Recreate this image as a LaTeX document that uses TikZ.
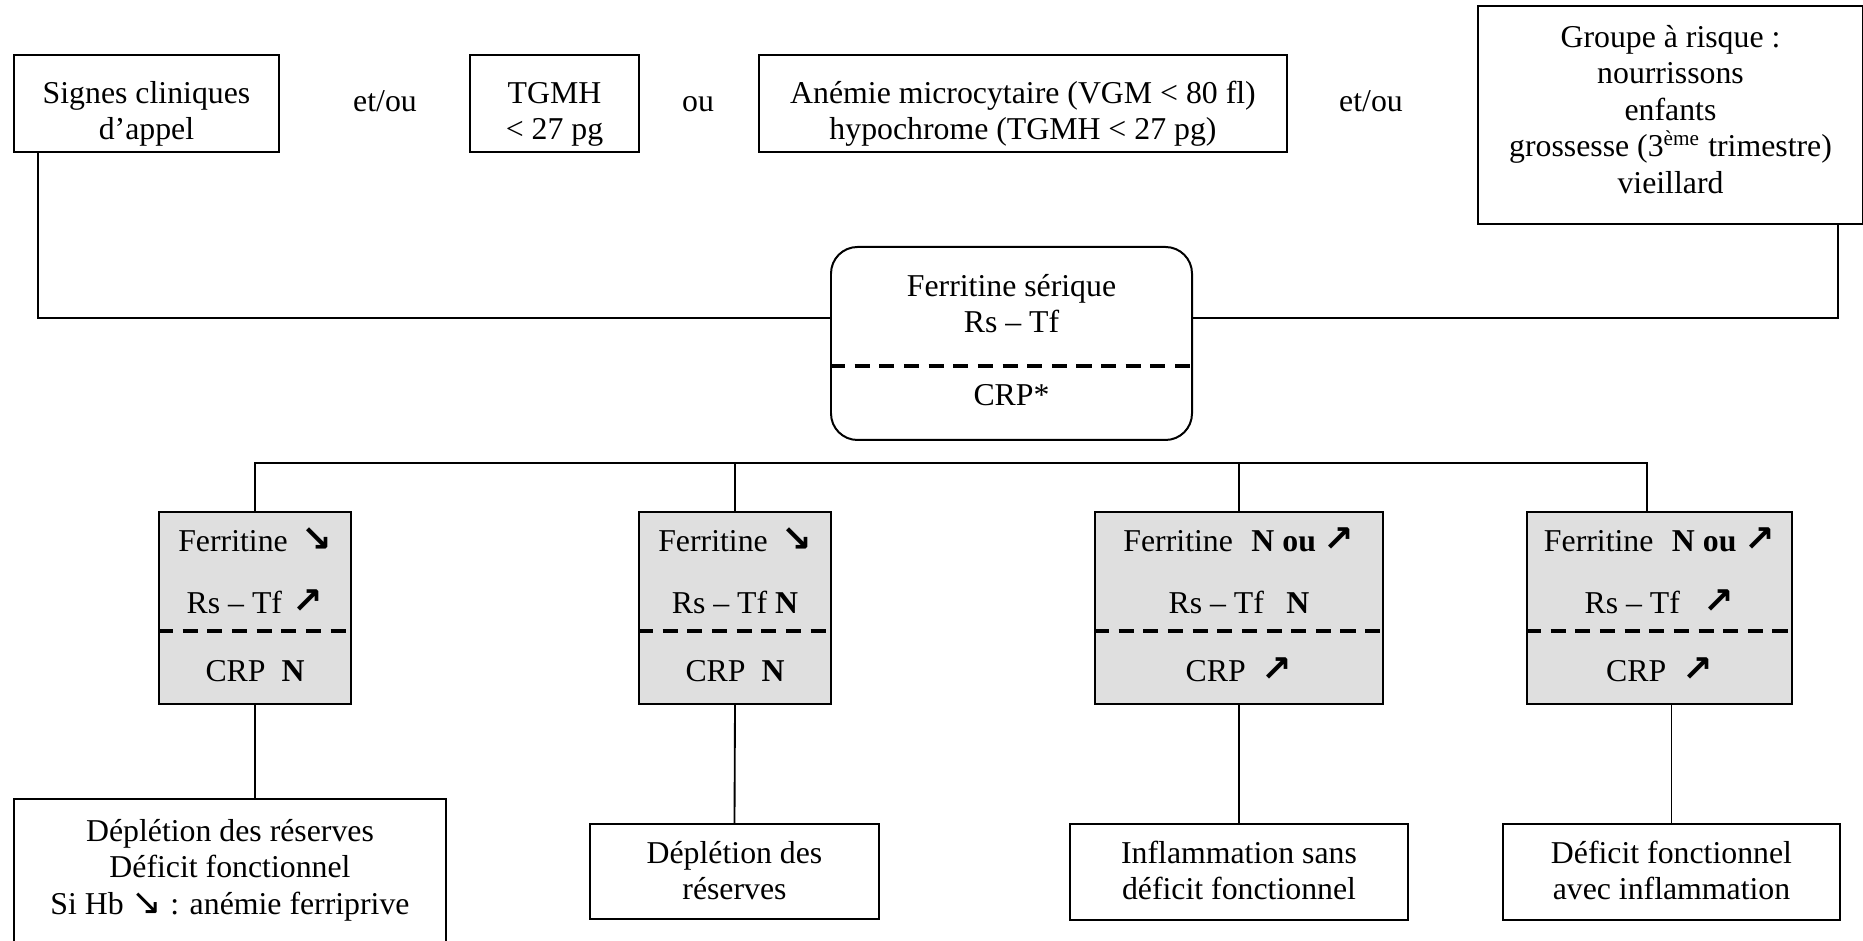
\documentclass[tikz,border=0pt]{standalone}
\usepackage{fontspec}
\setmainfont{Liberation Serif}
\newfontfamily\arrowfont{DejaVu Sans}[Scale=1.15]
% trend arrows
\newcommand\arrup{{\arrowfont\bfseries ↗}}
\newcommand\arrdn{{\arrowfont\bfseries ↘}}
\newcommand\arrdnthin{{\arrowfont ↘}}
% drawing unit and box contents: width, height, top gap, lines
\newdimen\pxu \pxu=0.3774pt
\newcommand\boxtext[4]{\parbox[t][#2\pxu][t]{#1\pxu}{\centering\vspace*{#3\pxu}\strut #4\par}}
\begin{document}
\begin{tikzpicture}[x=0.3774pt, y=-0.3774pt,
  every node/.style={font=\fontsize{12}{13.8}\selectfont, inner sep=0pt},
  frame/.style={draw, line width=0.75pt, fill=white, anchor=north west},
  testbox/.style={frame, fill=gray!25},
  roundbox/.style={frame, rounded corners=10pt},
  link/.style={line width=0.7pt},
  sepline/.style={line width=1.5pt, dash pattern=on 5.7pt off 3.6pt},
  word/.style={anchor=base}
]
\useasboundingbox (0,0) rectangle (1863,941);
\clip (0,0) rectangle (1863,941);

% helper coordinates for the connector routes
\coordinate (aX) at (38,0);
\coordinate (dX) at (1838,0);
\coordinate (joinY) at (0,318);
\coordinate (bus) at (0,463);
\coordinate (g4X) at (1647,0);
\coordinate (sepF) at (0,366);
\coordinate (sepG) at (0,631);

% entry criteria
\node[frame] (A) at (13,54)
  {\boxtext{265}{97}{22.5}{Signes cliniques\\d’appel}};
\node[frame] (B) at (469,54)
  {\boxtext{169}{97}{22.5}{TGMH\\< 27 pg}};
\node[frame] (C) at (758,54)
  {\boxtext{528}{97}{22.5}{Anémie microcytaire (VGM < 80 fl)\\hypochrome (TGMH < 27 pg)}};
\node[frame] (D) at (1477,5)
  {\boxtext{385}{218}{15.5}{Groupe à risque :\\nourrissons\\enfants\\grossesse (3\textsuperscript{ème} trimestre)\\vieillard}};

\node[word] (w1) at (385,112) {et/ou};
\node[word] (w2) at (698,112) {ou};
\node[word] (w3) at (1371,112) {et/ou};

% first-line assay
\node[roundbox] (F) at (830,246)
  {\boxtext{361}{193}{23.5}{Ferritine sérique\\Rs – Tf\\[13.8pt]CRP*}};
\draw[sepline] (F.west |- sepF) -- (F.east |- sepF);

\draw[link] (A.south -| aX) |- (F.west |- joinY);
\draw[link] (D.south -| dX) |- (F.east |- joinY);

% result profiles
\node[testbox] (G1) at (158,511)
  {\boxtext{192}{192}{13.5}{Ferritine\hspace{5pt}\arrdn\\[9.6pt]Rs – Tf\hspace{4pt}\arrup\\[11.9pt]CRP\hspace{6pt}\textbf{N}}};
\node[testbox] (G2) at (638,511)
  {\boxtext{192}{192}{13.5}{Ferritine\hspace{5pt}\arrdn\\[9.6pt]Rs – Tf \textbf{N}\\[11.9pt]CRP\hspace{6pt}\textbf{N}}};
\node[testbox] (G3) at (1094,511)
  {\boxtext{288}{192}{13.5}{Ferritine\hspace{7pt}\textbf{N ou} \arrup\\[9.6pt]Rs – Tf\hspace{8.5pt}\textbf{N}\\[11.9pt]CRP\hspace{6pt}\arrup}};
\node[testbox] (G4) at (1526,511)
  {\boxtext{265}{192}{13.5}{Ferritine\hspace{7pt}\textbf{N ou} \arrup\\[9.6pt]Rs – Tf\hspace{9pt}\arrup\\[11.9pt]CRP\hspace{6pt}\arrup}};

\foreach \g in {G1,G2,G3,G4}
  \draw[sepline] (\g.west |- sepG) -- (\g.east |- sepG);

\draw[link] (G1.north) -- (G1.north |- bus) -- (g4X |- bus) -- (G4.north -| g4X);
\draw[link] (G2.north) -- (G2.north |- bus);
\draw[link] (G3.north) -- (G3.north |- bus);

% interpretations
\node[frame] (E1) at (13,798)
  {\boxtext{432}{146}{16.5}{Déplétion des réserves\\Déficit fonctionnel\\Si Hb \arrdnthin{} : anémie ferriprive}};
\node[frame] (E2) at (589,823)
  {\boxtext{289}{95}{13.5}{Déplétion des\\réserves}};
\node[frame] (E3) at (1069,823)
  {\boxtext{338}{96}{13.5}{Inflammation sans\\déficit fonctionnel}};
\node[frame] (E4) at (1502,823)
  {\boxtext{337}{96}{13.5}{Déficit fonctionnel\\avec inflammation}};

\draw[link] (G1.south) -- (G1.south |- E1.north);
\draw[link] (G2.south) -- (E2.north);
\draw[link] (G3.south) -- (E3.north);
\draw[link] (E4.north |- G4.south) -- (E4.north);
\end{tikzpicture}
\end{document}
